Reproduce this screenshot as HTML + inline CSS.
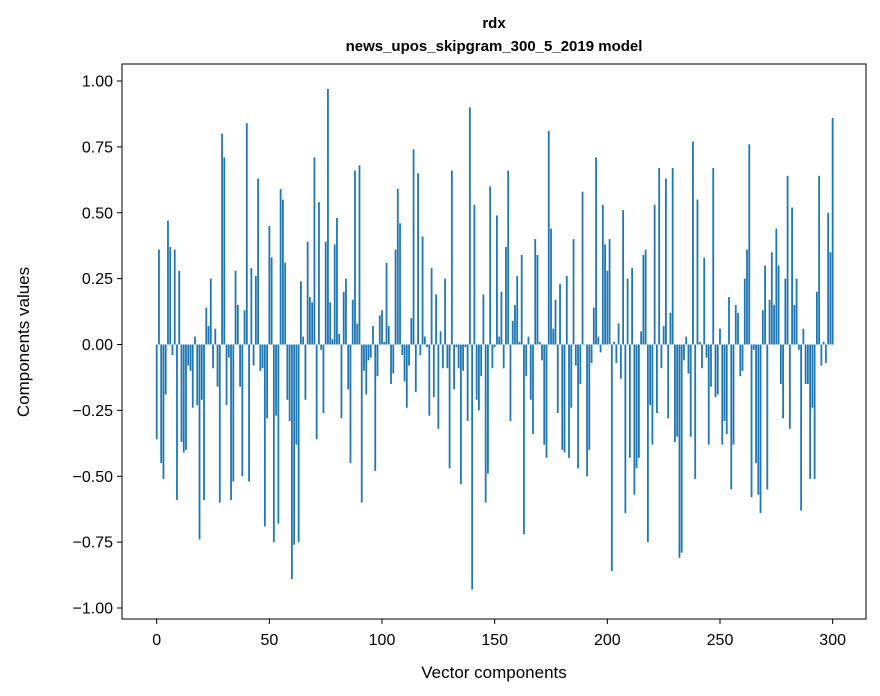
<!DOCTYPE html>
<html><head><meta charset="utf-8"><style>
body{margin:0;background:#fff;}
svg{display:block;font-family:"Liberation Sans","DejaVu Sans",sans-serif;}
</style></head><body>
<svg id="chart" width="880" height="696" viewBox="0 0 880 696" xmlns="http://www.w3.org/2000/svg">
<rect x="0" y="0" width="880" height="696" fill="#fff"/>
<text x="494" y="28" text-anchor="middle" font-size="15" font-weight="bold">rdx</text>
<text x="494" y="51" text-anchor="middle" font-size="15" font-weight="bold">news_upos_skipgram_300_5_2019 model</text>
<g id="bars"></g>
<g id="xticks"></g>
<g id="yticks"></g>
<rect x="122" y="64" width="744" height="555" fill="none" stroke="#000" stroke-width="1"/>
<text x="494" y="678" text-anchor="middle" font-size="17">Vector components</text>
<text transform="translate(29,342) rotate(-90)" text-anchor="middle" font-size="17">Components values</text>
</svg>
<script>
const values = [
-0.36,0.36,-0.45,-0.51,-0.19,0.47,0.37,-0.04,0.36,-0.59,0.28,-0.37,-0.41,-0.40,-0.08,-0.10,-0.24,0.03,-0.23,-0.74,
-0.21,-0.59,0.14,0.07,0.25,-0.09,0.06,-0.16,-0.60,0.80,0.71,-0.23,-0.05,-0.59,-0.52,0.28,0.15,-0.16,-0.50,0.13,
0.84,-0.52,0.29,-0.08,0.26,0.63,-0.10,-0.09,-0.69,-0.28,
0.45,0.33,-0.75,-0.27,-0.68,0.59,0.55,0.31,-0.21,-0.29,-0.89,-0.76,-0.38,-0.75,0.24,0.03,-0.21,0.39,0.18,0.16,
0.71,-0.36,0.54,-0.02,-0.26,0.39,0.97,0.16,0.02,0.38,0.48,0.04,-0.28,0.20,0.25,-0.17,-0.45,0.17,0.66,0.08,
0.68,-0.60,-0.10,-0.19,-0.06,-0.05,0.07,-0.48,-0.12,0.11,0.13,0.01,
0.31,0.07,-0.15,-0.11,0.36,0.59,0.46,-0.04,-0.14,-0.24,-0.08,0.10,0.74,-0.18,0.65,-0.04,0.41,0.03,-0.01,-0.27,
0.29,-0.20,0.19,-0.32,0.05,-0.09,0.25,-0.09,-0.47,0.66,-0.17,-0.01,-0.09,-0.53,-0.10,-0.01,-0.29,0.90,-0.93,0.53,
-0.21,-0.25,-0.12,0.19,-0.60,-0.49,0.60,-0.09,-0.01,0.49,
0.03,0.20,-0.09,0.37,0.66,-0.29,0.09,0.15,0.26,0.01,0.34,-0.72,-0.12,0.03,-0.21,-0.34,0.40,0.34,0.01,-0.06,
-0.38,-0.43,0.81,0.44,0.06,0.17,-0.26,0.23,-0.40,-0.41,0.26,-0.43,-0.24,0.40,-0.08,-0.47,-0.15,0.58,0.00,-0.50,
-0.40,-0.07,0.14,0.71,0.03,-0.03,0.53,0.38,0.28,0.40,-0.86,0.01,
-0.07,0.08,-0.13,0.51,-0.64,0.25,-0.43,0.29,-0.57,-0.47,-0.43,0.05,0.34,0.36,-0.75,-0.23,-0.38,0.53,-0.26,0.67,
-0.09,0.07,0.63,-0.28,0.12,0.67,-0.37,-0.35,-0.81,-0.79,-0.06,0.03,-0.11,-0.35,0.77,-0.51,0.55,0.01,-0.09,0.33,
-0.05,-0.38,-0.16,0.67,-0.20,-0.19,0.06,-0.38,-0.29,-0.34,
0.18,-0.55,-0.38,0.15,0.12,-0.12,-0.10,0.25,0.36,0.76,-0.58,-0.02,-0.45,-0.57,-0.64,0.13,0.30,-0.55,0.17,0.35,
0.15,0.44,0.30,-0.15,-0.28,0.25,0.64,-0.32,0.52,0.15,0.25,-0.02,-0.63,0.06,-0.15,-0.15,-0.51,-0.24,-0.51,0.20,
0.64,-0.08,0.01,-0.07,0.50,0.35,0.86
];
const xTickLabels = [0,50,100,150,200,250,300];
const yTickLabels = [-1.00,-0.75,-0.50,-0.25,0.00,0.25,0.50,0.75,1.00];

const NS = "http://www.w3.org/2000/svg";
const xDomain = [-15.4, 314.8], xRange = [122, 866];
function xScale(v){ return xRange[0] + (v - xDomain[0]) / (xDomain[1] - xDomain[0]) * (xRange[1] - xRange[0]); }
function yScale(v){ return 344.5 - v * 263.5; }
const bw = 0.8 * (xScale(1) - xScale(0));

const barsG = document.getElementById('bars');
values.forEach((v, i) => {
  const r = document.createElementNS(NS, 'rect');
  const y0 = yScale(0), y1 = yScale(v);
  r.setAttribute('x', (xScale(i) - bw / 2).toFixed(2));
  r.setAttribute('y', Math.min(y0, y1).toFixed(2));
  r.setAttribute('width', bw.toFixed(2));
  r.setAttribute('height', Math.max(Math.abs(y1 - y0), 0.3).toFixed(2));
  r.setAttribute('fill', '#1f77b4');
  
  
  barsG.appendChild(r);
});

const xg = document.getElementById('xticks');
xTickLabels.forEach(t => {
  const x = xScale(t);
  const l = document.createElementNS(NS, 'line');
  l.setAttribute('x1', x); l.setAttribute('x2', x);
  l.setAttribute('y1', 619); l.setAttribute('y2', 624);
  l.setAttribute('stroke', '#000');
  
  
  xg.appendChild(l);
  const tx = document.createElementNS(NS, 'text');
  tx.setAttribute('x', x); tx.setAttribute('y', 645);
  tx.setAttribute('text-anchor', 'middle'); tx.setAttribute('font-size', '16');
  tx.textContent = t;
  
  
  xg.appendChild(tx);
});

const yg = document.getElementById('yticks');
yTickLabels.forEach(t => {
  const y = yScale(t);
  const l = document.createElementNS(NS, 'line');
  l.setAttribute('x1', 117); l.setAttribute('x2', 122);
  l.setAttribute('y1', y); l.setAttribute('y2', y);
  l.setAttribute('stroke', '#000');
  
  
  yg.appendChild(l);
  const tx = document.createElementNS(NS, 'text');
  tx.setAttribute('x', 113); tx.setAttribute('y', y + 5.5);
  tx.setAttribute('text-anchor', 'end'); tx.setAttribute('font-size', '16');
  tx.textContent = (t < 0 ? '\u2212' : '') + Math.abs(t).toFixed(2);
  
  
  yg.appendChild(tx);
});
</script>
</body></html>
